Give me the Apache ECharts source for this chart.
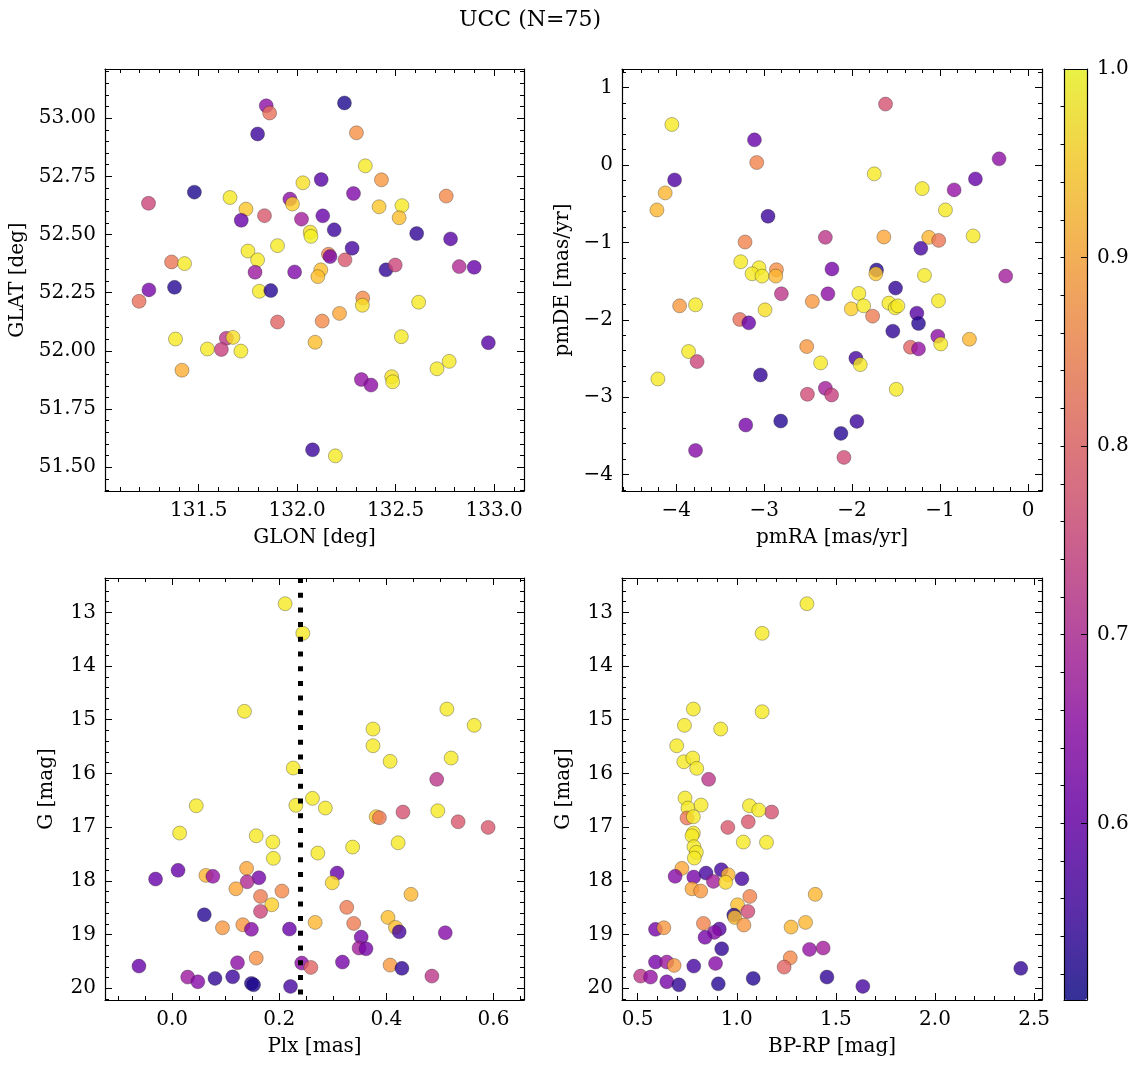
<!DOCTYPE html>
<html><head><meta charset="utf-8">
<script src="https://cdn.jsdelivr.net/npm/echarts@6/dist/echarts.min.js"></script>
<style>html,body{margin:0;padding:0;background:#fff}#c{width:1136px;height:1068px}</style>
</head><body><div id="c"></div>
<script>
// ---------- DATA ----------
// Panel A: GLON / GLAT
const glon = [131.843,131.860,132.240,131.799,132.301,132.346,132.428,132.029,132.122,131.478,131.245,131.659,132.286,132.757,131.963,131.976,131.740,131.716,131.834,132.022,132.130,132.416,132.532,132.518,132.066,132.070,132.188,132.607,132.779,131.900,131.750,131.799,132.279,132.159,132.167,132.243,131.362,131.428,131.786,131.987,132.120,132.105,132.451,132.498,132.823,132.899,131.247,131.377,131.197,131.808,131.866,132.333,132.331,132.617,131.900,132.127,132.215,131.382,131.640,131.674,131.615,131.544,131.714,132.091,132.529,132.971,131.415,132.710,132.772,132.326,132.375,132.480,132.485,132.078,132.194];
const glat = [53.053,53.022,53.065,52.932,52.937,52.795,52.735,52.722,52.736,52.682,52.634,52.659,52.676,52.665,52.652,52.631,52.609,52.561,52.581,52.566,52.580,52.619,52.624,52.572,52.510,52.492,52.520,52.504,52.481,52.452,52.429,52.391,52.441,52.415,52.405,52.391,52.382,52.375,52.338,52.339,52.348,52.319,52.348,52.369,52.362,52.359,52.262,52.273,52.213,52.256,52.259,52.227,52.196,52.209,52.124,52.128,52.161,52.051,52.054,52.058,52.006,52.008,51.999,52.037,52.061,52.035,51.917,51.923,51.955,51.877,51.853,51.889,51.867,51.575,51.549];
const probA = [0.65,0.82,0.52,0.55,0.87,0.98,0.88,0.97,0.58,0.52,0.75,0.98,0.63,0.86,0.65,0.95,0.94,0.60,0.78,0.68,0.60,0.94,0.98,0.93,0.97,0.99,0.55,0.54,0.58,0.98,0.98,0.98,0.56,0.85,0.62,0.78,0.83,0.98,0.67,0.63,0.93,0.93,0.54,0.75,0.70,0.60,0.62,0.53,0.82,0.98,0.53,0.86,0.97,0.98,0.80,0.86,0.90,0.98,0.72,0.97,0.74,0.98,0.98,0.93,0.98,0.58,0.91,0.98,0.98,0.66,0.65,0.97,0.98,0.55,0.98];

// Panel B: pmRA / pmDE
const pmra = [-4.049,-3.110,-1.620,-3.084,-4.018,-4.125,-4.219,-2.956,-1.748,-0.329,-0.598,-1.203,-0.840,-0.939,-3.217,-2.304,-1.639,-1.128,-1.015,-0.624,-1.219,-3.266,-3.058,-2.860,-3.137,-3.024,-2.868,-2.229,-1.722,-1.730,-1.177,-0.254,-1.506,-2.804,-2.275,-1.923,-3.961,-3.780,-2.452,-2.009,-1.869,-1.582,-1.510,-1.480,-1.018,-2.990,-1.767,-3.277,-3.175,-1.264,-1.245,-1.537,-1.026,-0.992,-0.666,-2.516,-1.336,-1.245,-3.859,-3.762,-2.358,-1.957,-1.907,-4.208,-3.042,-2.304,-2.233,-2.508,-1.498,-3.209,-2.812,-1.946,-2.127,-3.780,-2.093];
const pmde = [0.522,0.323,0.785,0.030,-0.194,-0.362,-0.582,-0.664,-0.116,0.078,-0.181,-0.306,-0.323,-0.582,-0.996,-0.936,-0.931,-0.936,-0.975,-0.918,-1.078,-1.251,-1.328,-1.354,-1.406,-1.436,-1.436,-1.345,-1.358,-1.406,-1.427,-1.436,-1.591,-1.665,-1.665,-1.660,-1.820,-1.807,-1.763,-1.859,-1.820,-1.785,-1.846,-1.820,-1.755,-1.872,-1.953,-1.996,-2.040,-1.915,-2.048,-2.147,-2.212,-2.312,-2.251,-2.346,-2.354,-2.376,-2.410,-2.540,-2.557,-2.497,-2.579,-2.764,-2.713,-2.885,-2.971,-2.962,-2.898,-3.359,-3.308,-3.312,-3.467,-3.687,-3.777];
const probB = [0.98,0.60,0.77,0.85,0.57,0.92,0.92,0.55,0.98,0.65,0.60,0.98,0.66,0.98,0.85,0.72,0.90,0.92,0.83,0.98,0.56,0.98,0.98,0.87,0.98,0.98,0.92,0.62,0.53,0.94,0.98,0.68,0.54,0.72,0.65,0.98,0.88,0.98,0.88,0.95,0.98,0.98,0.98,0.98,0.98,0.97,0.84,0.82,0.60,0.58,0.53,0.54,0.65,0.98,0.92,0.88,0.80,0.66,0.98,0.75,0.98,0.56,0.98,0.98,0.54,0.68,0.74,0.76,0.98,0.62,0.53,0.55,0.53,0.64,0.76];

// Panel C: Plx / G
const plx = [0.211,0.244,0.135,0.513,0.564,0.375,0.375,0.407,0.521,0.226,0.494,0.045,0.014,0.231,0.262,0.286,0.381,0.387,0.431,0.496,0.534,0.590,0.157,0.188,0.189,0.272,0.337,0.422,-0.031,0.011,0.063,0.076,0.139,0.162,0.140,0.119,0.165,0.205,0.186,0.165,0.308,0.299,0.446,0.060,0.094,0.132,0.148,0.219,0.267,0.326,0.339,0.403,0.417,0.424,0.510,0.353,0.349,0.362,-0.062,0.029,0.048,0.080,0.113,0.148,0.152,0.122,0.157,0.221,0.242,0.259,0.318,0.407,0.429,0.485];
const gmagC = [12.840,13.391,14.844,14.801,15.104,15.173,15.484,15.775,15.713,15.899,16.110,16.601,17.110,16.594,16.464,16.644,16.805,16.825,16.719,16.695,16.900,17.004,17.160,17.277,17.581,17.482,17.371,17.291,17.966,17.804,17.898,17.916,17.767,17.942,18.017,18.147,18.289,18.190,18.445,18.568,17.855,18.035,18.251,18.631,18.873,18.817,18.903,18.897,18.773,18.493,18.792,18.680,18.866,18.948,18.966,19.047,19.251,19.264,19.587,19.791,19.879,19.816,19.786,19.909,19.935,19.525,19.438,19.965,19.531,19.611,19.512,19.568,19.629,19.773];
const probC = [0.98,0.98,0.98,0.98,0.98,0.98,0.98,0.98,0.98,0.98,0.72,0.98,0.98,0.98,0.98,0.98,0.95,0.83,0.77,0.98,0.78,0.78,0.98,0.98,0.98,0.98,0.98,0.98,0.60,0.60,0.92,0.66,0.90,0.62,0.70,0.90,0.84,0.86,0.95,0.75,0.60,0.96,0.92,0.53,0.88,0.88,0.64,0.60,0.92,0.84,0.84,0.93,0.93,0.56,0.64,0.62,0.68,0.62,0.60,0.67,0.64,0.54,0.55,0.53,0.52,0.65,0.87,0.56,0.65,0.80,0.62,0.88,0.54,0.72];
const plxLine = 0.245;

// Panel D: BP-RP / G
const bprp = [1.354,1.128,0.781,1.128,0.736,0.919,0.697,0.733,0.778,0.798,0.858,0.739,0.754,0.820,0.749,0.781,0.781,0.774,0.784,0.796,0.786,0.955,1.058,1.176,1.064,1.111,1.033,1.150,0.723,0.689,0.783,0.845,0.922,0.882,0.957,0.944,1.026,0.774,0.818,1.066,1.396,1.004,0.985,0.990,1.056,1.036,0.832,0.590,0.632,0.912,0.887,0.840,1.274,1.347,0.924,1.367,1.436,0.590,0.647,0.684,0.783,0.893,1.270,1.239,0.515,0.565,0.647,0.708,0.907,1.083,1.455,1.636,2.433];
const gmagD = [12.840,13.391,14.801,14.851,15.104,15.173,15.484,15.782,15.713,15.905,16.110,16.458,16.644,16.588,16.830,16.806,17.110,17.160,17.365,17.469,17.575,17.004,16.900,16.719,16.601,16.681,17.277,17.283,17.767,17.916,17.929,17.855,17.793,18.010,17.886,18.028,17.961,18.147,18.190,18.289,18.251,18.445,18.637,18.680,18.568,18.823,18.792,18.903,18.873,18.897,18.959,19.052,18.860,18.773,19.264,19.276,19.251,19.512,19.512,19.574,19.587,19.537,19.432,19.605,19.773,19.791,19.879,19.935,19.917,19.816,19.791,19.965,19.629];
const probD = [0.98,0.98,0.98,0.98,0.98,0.98,0.98,0.98,0.98,0.98,0.72,0.98,0.98,0.98,0.83,0.98,0.98,0.98,0.98,0.98,0.98,0.78,0.78,0.77,0.98,0.98,0.98,0.98,0.90,0.64,0.62,0.56,0.56,0.68,0.92,0.96,0.56,0.90,0.88,0.85,0.92,0.93,0.53,0.93,0.76,0.88,0.85,0.62,0.88,0.58,0.64,0.62,0.92,0.92,0.54,0.66,0.68,0.62,0.67,0.88,0.56,0.64,0.86,0.80,0.72,0.66,0.62,0.54,0.53,0.53,0.54,0.56,0.54];

// ---------- TICKS ----------
const glonTicks = [131.5, 132.0, 132.5, 133.0];
const glatTicks = [51.50, 51.75, 52.00, 52.25, 52.50, 52.75, 53.00];
const pmraTicks = [-4, -3, -2, -1, 0];
const pmdeTicks = [-4, -3, -2, -1, 0, 1];
const plxTicks = [0.0, 0.2, 0.4, 0.6];
const gTicks = [13, 14, 15, 16, 17, 18, 19, 20];
const bprpTicks = [0.5, 1.0, 1.5, 2.0, 2.5];
const cbarTicks = [0.6, 0.7, 0.8, 0.9, 1.0];
const probMin = 0.5063, probMax = 1.0;

// ---------- HELPERS ----------
const FONT = 'DejaVu Serif';
const FS = 20;
function steps(a, b, s) { const out = []; const n = Math.round((b - a) / s); for (let i = 0; i <= n; i++) out.push(+(a + i * s).toFixed(6)); return out; }
const minus = s => String(s).replace('-', '\u2212');
const fmt = d => v => minus(Number(v).toFixed(d));

function axes(kind, gridIndex, o) {
  const pos = kind === 'x' ? ['bottom', 'top'] : ['left', 'right'];
  const out = [];
  pos.forEach((p, pi) => {
    [true, false].forEach(major => {
      const main = major && pi === 0;
      const ax = {
        type: 'value', gridIndex, position: p, min: o.min, max: o.max, inverse: !!o.inverse,
        splitLine: { show: false },
        axisLine: { show: major, onZero: false, lineStyle: { color: '#000', width: 1.2 } },
        axisTick: { show: true, inside: true, length: major ? 7 : 4, lineStyle: { color: '#000', width: 1 }, customValues: major ? o.majors : o.minors },
        axisLabel: { show: main, customValues: o.majors, formatter: o.fmt, fontFamily: FONT, fontSize: FS, color: '#000', margin: kind === 'x' ? 10 : 9 },
        z: 5
      };
      if (main && o.name) {
        ax.name = o.name; ax.nameLocation = 'middle'; ax.nameGap = o.nameGap;
        ax.nameTextStyle = { fontFamily: FONT, fontSize: FS, color: '#000' };
      }
      out.push(ax);
    });
  });
  return out;
}

const grids = [
  { left: 105, top: 69, width: 419, height: 422 },
  { left: 622, top: 69, width: 420, height: 422 },
  { left: 105, top: 578, width: 419, height: 422 },
  { left: 622, top: 578, width: 420, height: 422 },
  { left: 1064, top: 69, width: 23, height: 931 }
];

const xAxes = [].concat(
  axes('x', 0, { min: 131.024, max: 133.152, majors: glonTicks, minors: steps(131.1, 133.1, 0.1), fmt: fmt(1), name: 'GLON [deg]', nameGap: 37 }),
  axes('x', 1, { min: -4.616, max: 0.159, majors: pmraTicks, minors: steps(-4.6, 0.0, 0.2), fmt: fmt(0), name: 'pmRA [mas/yr]', nameGap: 37 }),
  axes('x', 2, { min: -0.1254, max: 0.657, majors: plxTicks, minors: steps(-0.1, 0.65, 0.05), fmt: fmt(1), name: 'Plx [mas]', nameGap: 37 }),
  axes('x', 3, { min: 0.421, max: 2.54, majors: bprpTicks, minors: steps(0.5, 2.5, 0.1), fmt: fmt(1), name: 'BP-RP [mag]', nameGap: 37 }),
  [
    { type: 'value', gridIndex: 4, position: 'bottom', min: 0, max: 1, splitLine: { show: false }, axisTick: { show: false }, axisLabel: { show: false }, axisLine: { show: true, onZero: false, lineStyle: { color: '#000', width: 1.2 } }, z: 10 },
    { type: 'value', gridIndex: 4, position: 'top', min: 0, max: 1, splitLine: { show: false }, axisTick: { show: false }, axisLabel: { show: false }, axisLine: { show: true, onZero: false, lineStyle: { color: '#000', width: 1.2 } }, z: 10 }
  ]
);

const yAxes = [].concat(
  axes('y', 0, { min: 51.398, max: 53.211, majors: glatTicks, minors: steps(51.4, 53.2, 0.05), fmt: fmt(2), name: 'GLAT [deg]', nameGap: 77 }),
  axes('y', 1, { min: -4.211, max: 1.238, majors: pmdeTicks, minors: steps(-4.2, 1.2, 0.2), fmt: fmt(0), name: 'pmDE [mas/yr]', nameGap: 49 }),
  axes('y', 2, { min: 12.361, max: 20.218, inverse: true, majors: gTicks, minors: steps(12.4, 20.2, 0.2), fmt: fmt(0), name: 'G [mag]', nameGap: 48 }),
  axes('y', 3, { min: 12.361, max: 20.218, inverse: true, majors: gTicks, minors: steps(12.4, 20.2, 0.2), fmt: fmt(0), name: 'G [mag]', nameGap: 48 }),
  [
    { type: 'value', gridIndex: 4, position: 'right', min: probMin, max: probMax, splitLine: { show: false },
      axisLine: { show: true, onZero: false, lineStyle: { color: '#000', width: 1.2 } },
      axisTick: { show: true, inside: true, length: 6, lineStyle: { color: '#000', width: 1 }, customValues: cbarTicks },
      axisLabel: { show: true, customValues: cbarTicks, formatter: fmt(1), fontFamily: FONT, fontSize: FS, color: '#000', margin: 10 }, z: 10 },
    { type: 'value', gridIndex: 4, position: 'right', min: probMin, max: probMax, splitLine: { show: false },
      axisLine: { show: false },
      axisTick: { show: true, inside: true, length: 3.5, lineStyle: { color: '#000', width: 1 }, customValues: steps(0.52, 0.98, 0.02) },
      axisLabel: { show: false }, z: 10 },
    { type: 'value', gridIndex: 4, position: 'left', min: probMin, max: probMax, splitLine: { show: false },
      axisLine: { show: true, onZero: false, lineStyle: { color: '#000', width: 1.2 } },
      axisTick: { show: false }, axisLabel: { show: false }, z: 10 }
  ]
);

const plasma = ['#0d0887', '#41049d', '#6a00a8', '#8f0da4', '#b12a90', '#cc4778', '#e16462', '#f2844b', '#fca636', '#fcce25', '#f0f921'];
const alpha = 0.8;
const plasmaA = plasma.map(h => {
  const r = parseInt(h.slice(1, 3), 16), g = parseInt(h.slice(3, 5), 16), b = parseInt(h.slice(5, 7), 16);
  return `rgba(${r},${g},${b},${alpha})`;
});

function pts(xs, ys, ps) { return xs.map((x, i) => [x, ys[i], ps[i]]); }
function scatter(gi, data, extra) {
  return Object.assign({
    type: 'scatter', xAxisIndex: gi * 4, yAxisIndex: gi * 4, data, symbolSize: 14,
    itemStyle: { opacity: 1, borderColor: 'rgba(30,30,30,0.55)', borderWidth: 0.6 },
    emphasis: { disabled: true }
  }, extra || {});
}

const option = {
  animation: false,
  backgroundColor: '#fff',
  grid: grids,
  xAxis: xAxes,
  yAxis: yAxes,
  visualMap: {
    type: 'continuous', min: probMin, max: probMax, dimension: 2, seriesIndex: [0, 1, 2, 3],
    inRange: { color: plasmaA }, left: 1064, top: 69, itemWidth: 23, itemHeight: 931,
    padding: 0, calculable: false, text: null, showLabel: false, hoverLink: false, z: 4
  },
  graphic: [{ type: 'text', x: 530, y: 20, style: { text: 'UCC (N=75)', font: '22px "DejaVu Serif"', fill: '#000', textAlign: 'center', textVerticalAlign: 'middle' } }],
  series: [
    scatter(0, pts(glon, glat, probA)),
    scatter(1, pts(pmra, pmde, probB)),
    scatter(2, pts(plx, gmagC, probC), {
      markLine: { silent: true, symbol: ['none', 'none'], label: { show: false },
        lineStyle: { color: '#000', width: 5, type: [5, 9.7], cap: 'butt' },
        data: [{ xAxis: plxLine }] }
    }),
    scatter(3, pts(bprp, gmagD, probD))
  ]
};

const chart = echarts.init(document.getElementById('c'), null, { renderer: 'canvas' });
chart.setOption(option);
</script>
</body></html>
